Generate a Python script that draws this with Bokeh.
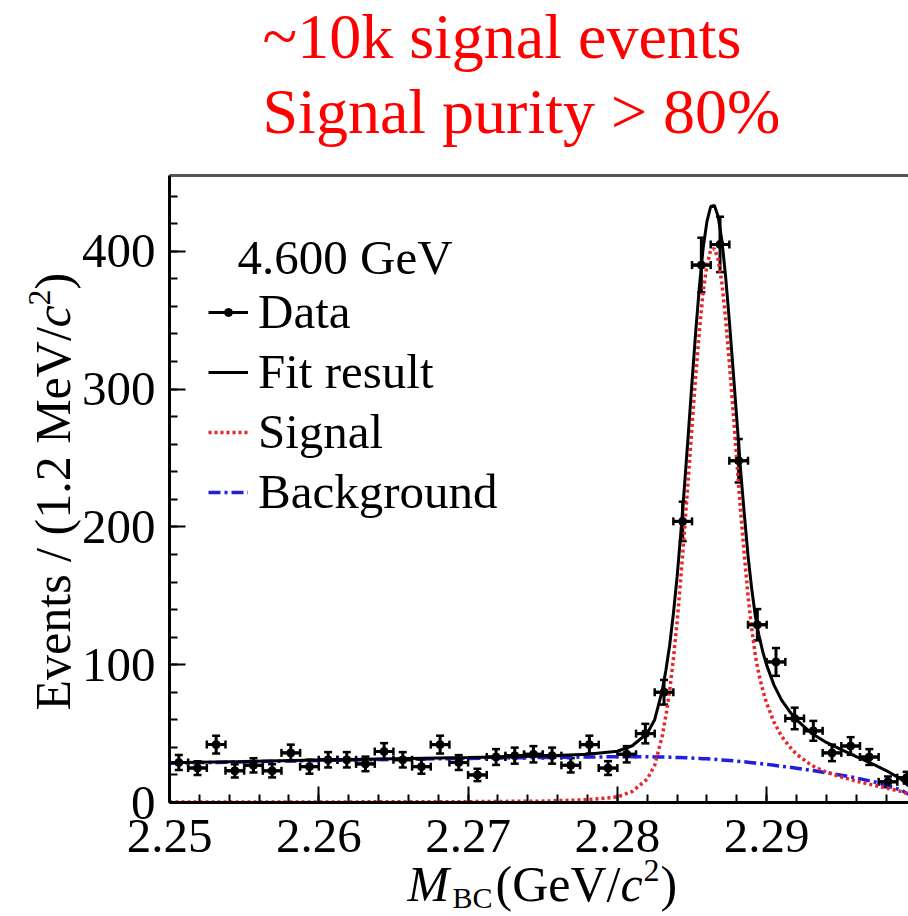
import numpy as np
from bokeh.plotting import figure
from bokeh.models import (ColumnDataSource, Whisker, TeeHead, Label, Legend,
                          LegendItem, FixedTicker, Range1d, LinearAxis)
from bokeh.embed import file_html
from bokeh.resources import INLINE

# ---------------- data ----------------
bin_centers = [2.250625, 2.251875, 2.253125, 2.254375, 2.255625, 2.256875, 2.258125, 2.259375,
               2.260625, 2.261875, 2.263125, 2.264375, 2.265625, 2.266875, 2.268125, 2.269375,
               2.270625, 2.271875, 2.273125, 2.274375, 2.275625, 2.276875, 2.278125, 2.279375,
               2.280625, 2.281875, 2.283125, 2.284375, 2.285625, 2.286875, 2.288125, 2.289375,
               2.290625, 2.291875, 2.293125, 2.294375, 2.295625, 2.296875, 2.298125, 2.299375]
counts = [29, 25, 42, 23, 27, 23, 36, 26, 31, 31, 28, 37, 31, 26, 42, 29, 20, 33, 34, 35,
          34, 27, 42, 25, 35, 50, 80, 204, 390, 405, 248, 129, 102, 61, 52, 36, 41, 33, 15, 18]

curve_x = [2.2500, 2.2550, 2.2600, 2.2650, 2.2700, 2.2750, 2.2780, 2.2800, 2.2810, 2.2820, 2.2825,
           2.28300, 2.28325, 2.28350, 2.28375, 2.28400, 2.28425, 2.28450, 2.28475, 2.28500, 2.28525,
           2.28550, 2.28575, 2.28600, 2.28625, 2.28650, 2.28675, 2.28700, 2.28725, 2.28750, 2.28775,
           2.28800, 2.28825, 2.28850, 2.28875, 2.28900, 2.28925, 2.28950, 2.28975, 2.29000,
           2.2905, 2.2910, 2.2915, 2.2920, 2.2930, 2.2940, 2.2950, 2.2960, 2.2970, 2.2980, 2.2990, 2.2995]
signal_y = [0.3, 0.3, 0.4, 0.5, 0.6, 1.0, 2.0, 4.0, 8.0, 17, 27,
            48, 63, 81, 104, 131, 163, 198, 235, 273, 310, 343, 371, 390, 401, 402, 394, 377, 351, 319,
            284, 248, 212, 180, 150, 126, 106, 92, 81, 72,
            58, 48, 41, 35, 27, 22, 18.5, 15.5, 13, 10.5, 8, 6]
background_y = [28.5, 29.5, 30.5, 31.3, 32.0, 32.7, 33.0, 33.2, 33.2, 33.2, 33.1,
                33.0, 33.0, 32.9, 32.8, 32.7, 32.6, 32.5, 32.4, 32.3, 32.1, 32.0, 31.8, 31.7, 31.5,
                31.3, 31.1, 30.9, 30.7, 30.5, 30.3, 30.0, 29.8, 29.5, 29.2, 28.9, 28.6, 28.3, 28.0, 27.7,
                27.0, 26.3, 25.6, 24.9, 23.3, 21.6, 19.8, 17.8, 15.5, 12.7, 9.0, 6.0]
total_y = [28.8, 29.8, 30.9, 31.8, 32.6, 33.7, 35.0, 37.2, 41.2, 50.2, 60.1,
           81.0, 96.0, 113.9, 136.8, 163.7, 195.6, 230.5, 267.4, 305.3, 342.1, 375.0, 402.8, 421.7,
           432.5, 433.3, 425.1, 407.9, 381.7, 349.5, 314.3, 278.0, 241.8, 209.5, 179.2, 154.9, 134.6,
           120.3, 109.0, 99.7,
           85.0, 74.3, 66.6, 59.9, 50.3, 43.6, 38.3, 33.3, 28.5, 23.2, 17.0, 12.0]

x_ticks = [2.25, 2.26, 2.27, 2.28, 2.29]
y_ticks = [0, 100, 200, 300, 400]
title_lines = ["~10k signal events", "Signal purity > 80%"]
energy_label = "4.600 GeV"
legend_labels = ["Data", "Fit result", "Signal", "Background"]
bin_width = 0.00125

# ---------------- layout (canvas pixels) ----------------
FONT = "Liberation Serif"
W, H = 908, 916
FX, FTOP, FY = 169, 175, 802          # axes box: left, top, bottom in canvas pixels
X0, X1 = 2.25, 2.2995                 # visible data extent of the axes box
Y0, Y1 = 0, 455
ppx = (W - FX) / (X1 - X0)
ppy = (FY - FTOP) / (Y1 - Y0)

# The plotting frame covers the whole canvas; the axes are drawn at fixed data locations,
# so every text (titles, axis titles) lies inside the frame and is not clipped.
p = figure(width=W, height=H,
           x_range=Range1d(X0 - FX / ppx, X1),
           y_range=Range1d(Y0 - (H - FY) / ppy, Y1 + FTOP / ppy),
           output_backend="svg", toolbar_location=None,
           min_border_left=0, min_border_right=0, min_border_top=0, min_border_bottom=0)
p.xgrid.visible = False
p.ygrid.visible = False
p.outline_line_color = None
p.background_fill_color = "white"
p.border_fill_color = "white"

p.xaxis.ticker = FixedTicker(ticks=x_ticks, minor_ticks=[round(v, 4) for v in np.arange(2.25, 2.2996, 0.002)])
p.yaxis.ticker = FixedTicker(ticks=y_ticks, minor_ticks=list(range(0, 460, 20)))
p.xaxis.fixed_location = Y0
p.yaxis.fixed_location = X0
p.xaxis.bounds = (X0, X1)
p.yaxis.bounds = (Y0, Y1)
for ax in (p.xaxis[0], p.yaxis[0]):
    ax.major_tick_in = 16
    ax.major_tick_out = 0
    ax.minor_tick_in = 8
    ax.minor_tick_out = 0
    ax.axis_line_width = 3
    ax.major_tick_line_width = 2
    ax.minor_tick_line_width = 2
    ax.major_label_text_font = FONT
    ax.major_label_text_font_size = "49px"
    ax.major_label_text_color = "black"
p.xaxis.major_label_standoff = 17
p.yaxis.major_label_standoff = 14

# top border of the axes box
top_axis = LinearAxis(fixed_location=Y1, bounds=(X0, X1), ticker=FixedTicker(ticks=[]),
                      axis_line_color="#555555", axis_line_width=3,
                      major_tick_line_color=None, minor_tick_line_color=None,
                      major_label_text_font_size="0px")
p.add_layout(top_axis, "above")

# ---------------- curves ----------------
bkg_r = p.line(curve_x, background_y, line_color="#1f1fe0", line_width=3.5, line_dash="12 4 3 4")
sig_r = p.line(curve_x, signal_y, line_color="#e8262a", line_width=3.5, line_dash="3 3")
tot_r = p.line(curve_x, total_y, line_color="black", line_width=3)

# ---------------- data points ----------------
xc = np.array(bin_centers)
n = np.array(counts, dtype=float)
err = np.sqrt(n)
src = ColumnDataSource(dict(x=xc, y=n, ylo=n - err, yhi=n + err,
                            xlo=xc - bin_width / 2, xhi=xc + bin_width / 2))
hbar_r = p.segment(x0="xlo", y0="y", x1="xhi", y1="y", source=src, line_color="black", line_width=3)
p.add_layout(Whisker(source=src, base="x", lower="ylo", upper="yhi", dimension="height",
                     line_color="black", line_width=3,
                     lower_head=TeeHead(size=8, line_width=2.5), upper_head=TeeHead(size=8, line_width=2.5)))
p.add_layout(Whisker(source=src, base="y", lower="xlo", upper="xhi", dimension="width",
                     line_color="black", line_width=3,
                     lower_head=TeeHead(size=8, line_width=2.5), upper_head=TeeHead(size=8, line_width=2.5)))
pts_r = p.scatter("x", "y", source=src, size=8, color="black")

# ---------------- legend ----------------
legend = Legend(items=[LegendItem(label=legend_labels[0], renderers=[hbar_r, pts_r]),
                       LegendItem(label=legend_labels[1], renderers=[tot_r]),
                       LegendItem(label=legend_labels[2], renderers=[sig_r]),
                       LegendItem(label=legend_labels[3], renderers=[bkg_r])],
                location=(208, H - 520), orientation="vertical",
                padding=0, margin=0, spacing=3, glyph_width=40, glyph_height=20,
                label_standoff=10, label_text_font=FONT, label_text_font_size="49px",
                label_text_color="black",
                label_height=55, border_line_alpha=0, background_fill_alpha=0)
p.add_layout(legend)

BASE_SHIFT = 0.35   # measured offset of the rendered alphabetic baseline, in em


def lab(text, cx, cy, size, color="black", style="normal", angle=0.0):
    """Place a text with its alphabetic baseline at canvas point (cx, cy)."""
    d = BASE_SHIFT * size
    if angle:
        cx = cx - d
    else:
        cy = cy - d
    p.add_layout(Label(x=cx, y=H - cy, x_units="screen", y_units="screen", text=text,
                       text_font=FONT, text_font_size=f"{size}px", text_color=color,
                       text_font_style=style, angle=angle, text_align="left",
                       text_baseline="alphabetic"))


lab(energy_label, 237, 274, 49)
lab(title_lines[0], 262, 58, 64, color="#ff0000")
lab(title_lines[1], 262, 133, 64, color="#ff0000")

# x-axis title: M_BC(GeV/c^2)
lab("M", 407, 901, 50, style="italic")
lab("BC", 452, 907, 30)
lab("(GeV/", 495, 901, 50)
lab("c", 620, 901, 50, style="italic")
lab("2", 643, 881, 32)
lab(")", 660, 901, 50)

# y-axis title: Events / (1.2 MeV/c^2), rotated
ang = np.pi / 2
lab("Events / (1.2 MeV/", 70, 710, 50, angle=ang)
lab("c", 70, 327, 50, style="italic", angle=ang)
lab("2", 50, 305, 32, angle=ang)
lab(")", 70, 289, 50, angle=ang)

open("out.html", "w").write(file_html(p, INLINE))
